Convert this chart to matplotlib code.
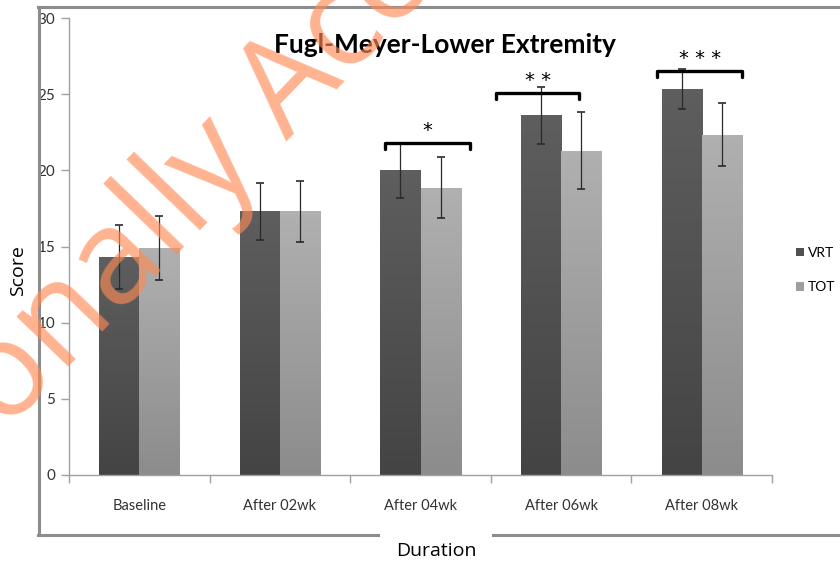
import matplotlib
matplotlib.use("Agg")
import matplotlib.pyplot as plt
import numpy as np
from matplotlib.lines import Line2D

plt.rcParams['font.family'] = ['Lato', 'DejaVu Sans']

categories = ["Baseline", "After 02wk", "After 04wk", "After 06wk", "After 08wk"]
vrt_mean = [14.3, 17.3, 20.0, 23.6, 25.35]
vrt_err = [2.1, 1.9, 1.8, 1.9, 1.3]
tot_mean = [14.9, 17.3, 18.85, 21.3, 22.35]
tot_err = [2.1, 2.0, 2.0, 2.5, 2.05]

# significance brackets: (category index, stars, height, left/right offset)
sig_idx = [2, 3, 4]
sig_text = ["*", "**", "***"]
sig_y = [21.8, 25.1, 26.5]
sig_left = [-0.25, -0.46, -0.32]
sig_right = [0.35, 0.13, 0.29]

W, H = 840, 565
fig = plt.figure(figsize=(W / 100, H / 100), dpi=100)


def px(x, y):
    return x / W, 1 - y / H


# outer frame (gray), bottom line broken under "Duration"
fc = "#8c8c8c"
for xs, ys in [([38, 850], [7, 7]), ([39, 39], [7, 535]),
               ([38, 378], [535, 535]), ([493, 850], [535, 535])]:
    fig.add_artist(Line2D([x / W for x in xs], [1 - y / H for y in ys],
                          color=fc, lw=2.2, transform=fig.transFigure))

ax = fig.add_axes([69 / W, 90 / H, 703 / W, 457 / H])

w = 0.285
x = np.arange(len(categories))


def gradient_fill(bars, c_top, c_bot):
    for b in bars:
        x0, y0 = b.get_x(), b.get_y()
        bw, bh = b.get_width(), b.get_height()
        grad = np.linspace(0, 1, 64).reshape(-1, 1)
        top = np.array(matplotlib.colors.to_rgb(c_top))
        bot = np.array(matplotlib.colors.to_rgb(c_bot))
        img = top[None, None, :] * (1 - grad[:, :, None]) + bot[None, None, :] * grad[:, :, None]
        im = ax.imshow(img, extent=[x0, x0 + bw, y0, y0 + bh], aspect="auto",
                       origin="upper", zorder=2)
        im.set_clip_path(b)
        b.set_facecolor("none")


b1 = ax.bar(x - w / 2, vrt_mean, w, color="#555555", label="VRT", zorder=2)
b2 = ax.bar(x + w / 2, tot_mean, w, color="#a5a5a5", label="TOT", zorder=2)
gradient_fill(b1, "#5e5e5e", "#444444")
gradient_fill(b2, "#b0b0b0", "#8c8c8c")
ax.set_xlim(-0.5, len(categories) - 0.5)
ax.set_ylim(0, 30)

ekw = dict(fmt="none", ecolor="#2a2a2a", elinewidth=0.9, capsize=3, capthick=1.2, zorder=3)
ax.errorbar(x - w / 2, vrt_mean, yerr=vrt_err, **ekw)
ax.errorbar(x + w / 2, tot_mean, yerr=tot_err, **ekw)

for i, s, yb, l, r in zip(sig_idx, sig_text, sig_y, sig_left, sig_right):
    x0, x1 = i + l, i + r
    ax.plot([x0, x0, x1, x1], [yb - 0.4, yb, yb, yb - 0.4], color="black",
            lw=2.4, solid_capstyle="round", solid_joinstyle="round", zorder=4)
    ax.text((x0 + x1) / 2, yb + 0.2, " ".join(s), ha="center", va="bottom",
            fontsize=14, family="DejaVu Sans", zorder=4)

for sp in ["top", "right"]:
    ax.spines[sp].set_visible(False)
for sp in ["left", "bottom"]:
    ax.spines[sp].set_color("#a0a0a0")
    ax.spines[sp].set_linewidth(1.0)

ax.set_yticks(np.arange(0, 31, 5))
ax.tick_params(axis="y", colors="#a0a0a0", labelcolor="#333333", labelsize=11,
               length=6, width=1, pad=4)
ax.set_xticks(x)
ax.set_xticklabels(categories)
ax.set_xticks(np.arange(-0.5, len(categories), 1.0), minor=True)
ax.tick_params(axis="x", which="major", length=0, labelsize=10.5, labelcolor="#333333", pad=17)
ax.tick_params(axis="x", which="minor", length=6, color="#a0a0a0", width=1)

fig.text(*px(445, 45), "Fugl-Meyer-Lower Extremity", ha="center", va="center",
         fontsize=19, fontweight="bold")
fig.text(*px(18, 271), "Score", rotation=90, ha="center", va="center", fontsize=14,
         family=["Open Sans", "DejaVu Sans"])
fig.text(*px(436, 551), "Duration", ha="center", va="center", fontsize=14,
         family=["Open Sans", "DejaVu Sans"])

fig.legend(handles=[b1, b2], labels=["VRT", "TOT"], loc="center left",
           bbox_to_anchor=px(796, 270), frameon=False, fontsize=10,
           handlelength=0.6, handleheight=0.6, handletextpad=0.25, labelspacing=1.6,
           borderaxespad=0, borderpad=0)
leg = fig.legends[0]
for h, c in zip(leg.legend_handles, ["#505050", "#9e9e9e"]):
    h.set_facecolor(c)

# watermark
fig.text(*px(176, 205), "Provisionally Accepted", rotation=46, ha="center", va="center",
         fontsize=96, color="#ff8a55", alpha=0.65, family=["Open Sans", "DejaVu Sans"],
         zorder=10)

fig.savefig("out.png", dpi=100)
